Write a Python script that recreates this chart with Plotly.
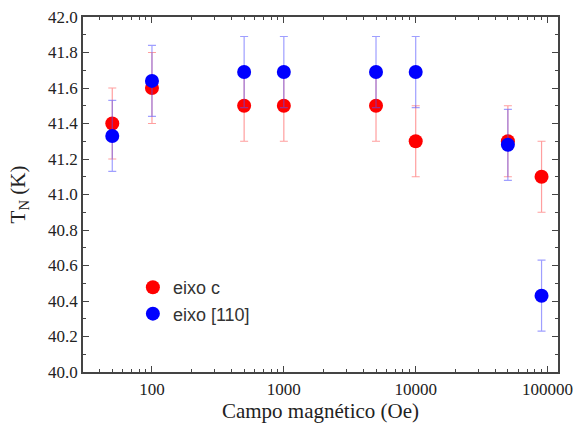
import plotly.graph_objects as go

campo = [50, 100, 500, 1000, 5000, 10000, 50000, 90000]
tn_eixo_c = [41.40, 41.60, 41.50, 41.50, 41.50, 41.30, 41.30, 41.10]
err_eixo_c = [0.2, 0.2, 0.2, 0.2, 0.2, 0.2, 0.2, 0.2]
tn_eixo_110 = [41.33, 41.64, 41.69, 41.69, 41.69, 41.69, 41.28, 40.43]
err_eixo_110 = [0.2, 0.2, 0.2, 0.2, 0.2, 0.2, 0.2, 0.2]

x_tick_vals = [100, 1000, 10000, 100000]
x_tick_text = ["100", "1000", "10000", "100000"]

serif = "Times New Roman, Liberation Serif, serif"
axis_color = "#444444"

fig = go.Figure()
fig.add_trace(go.Scatter(
    x=campo, y=tn_eixo_c, mode="markers", name="eixo c",
    marker=dict(color="#ff0000", size=14, line=dict(width=0)),
    error_y=dict(type="data", array=err_eixo_c, color="rgba(255,80,80,0.55)",
                 thickness=1.2, width=4),
))
fig.add_trace(go.Scatter(
    x=campo, y=tn_eixo_110, mode="markers", name="eixo [110]",
    marker=dict(color="#0000ff", size=14, line=dict(width=0)),
    error_y=dict(type="data", array=err_eixo_110, color="rgba(80,80,255,0.55)",
                 thickness=1.2, width=4),
))

fig.update_layout(
    width=575, height=432,
    margin=dict(l=83, r=17, t=17, b=60),
    plot_bgcolor="white", paper_bgcolor="white",
    showlegend=True,
    legend=dict(x=0.105, y=0.29, xanchor="left", yanchor="top",
                font=dict(family="Liberation Sans", size=18, color="#333333"),
                bgcolor="rgba(0,0,0,0)", itemwidth=30, tracegroupgap=0),
    xaxis=dict(
        type="log", range=[1.477, 5.079], automargin=False,
        tickmode="array", tickvals=x_tick_vals, ticktext=x_tick_text,
        ticks="inside", ticklen=6, tickwidth=1.3, tickcolor=axis_color,
        ticklabelstandoff=1,
        minor=dict(ticks="inside", ticklen=3, tickwidth=1.3, tickcolor=axis_color,
                   tickvals=[30, 40, 50, 60, 70, 80, 90,
                             200, 300, 400, 500, 600, 700, 800, 900,
                             2000, 3000, 4000, 5000, 6000, 7000, 8000, 9000,
                             20000, 30000, 40000, 50000, 60000, 70000, 80000, 90000]),
        showline=True, linecolor=axis_color, linewidth=1.5, mirror="allticks",
        showgrid=False, zeroline=False,
        tickfont=dict(family=serif, size=17, color="#222222"),
        title=dict(text="Campo magnético (Oe)", font=dict(family=serif, size=21, color="#222222"),
                   standoff=4),
    ),
    yaxis=dict(
        range=[40.0, 42.0], dtick=0.2, tickformat=".1f", automargin=False,
        ticks="inside", ticklen=6, tickwidth=1.3, tickcolor=axis_color,
        minor=dict(ticks="inside", ticklen=3, tickwidth=1.3, tickcolor=axis_color, dtick=0.1),
        showline=True, linecolor=axis_color, linewidth=1.5, mirror="allticks",
        showgrid=False, zeroline=False,
        tickfont=dict(family=serif, size=17, color="#222222"),
        title=dict(text="T<sub>N</sub> (K)", font=dict(family=serif, size=21, color="#222222"),
                   standoff=17),
    ),
)

fig.write_html("out.html")
